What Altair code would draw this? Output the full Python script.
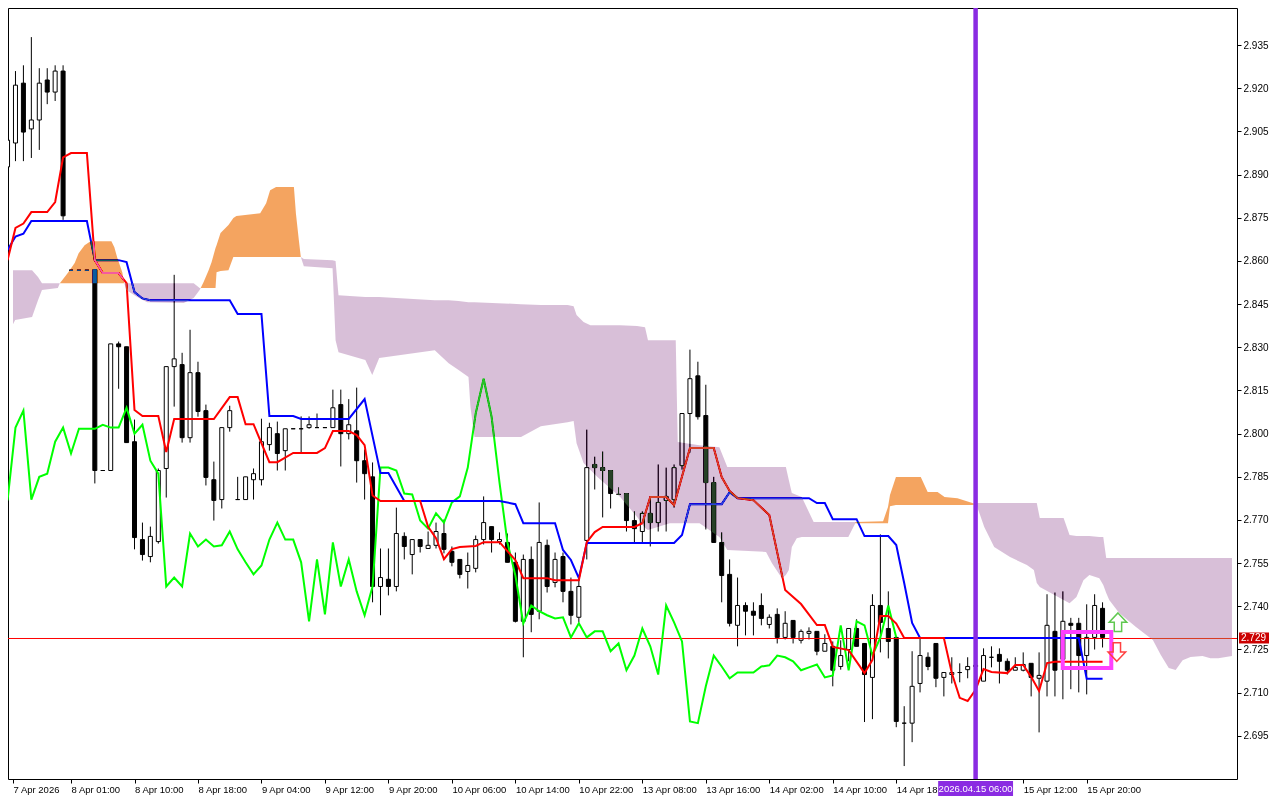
import json
import altair as alt
import pandas as pd

# ---------------- candles (hourly bars, index 0..138) ----------------
opens = [2.8927, 2.9010, 2.9218, 2.9059, 2.9090, 2.9229, 2.9187, 2.9260, 2.8568, 2.8568,
         2.8568, 2.8570, 2.7872, 2.7872, 2.8312, 2.8302, 2.7972, 2.7632, 2.7573, 2.7625,
         2.7879, 2.8233, 2.8240, 2.7986, 2.8212, 2.8080, 2.7840, 2.7771, 2.8021, 2.7771,
         2.7771, 2.7840, 2.7840, 2.7962, 2.8000, 2.7941, 2.8017, 2.8017, 2.8021, 2.8021,
         2.8021, 2.8021, 2.8101, 2.8000, 2.8010, 2.7906, 2.7850, 2.7469, 2.7494, 2.7469,
         2.7643, 2.7580, 2.7632, 2.7601, 2.7612, 2.7653, 2.7591, 2.7563, 2.7521, 2.7532,
         2.7632, 2.7677, 2.7625, 2.7622, 2.7553, 2.7348, 2.7563, 2.7383, 2.7612, 2.7483,
         2.7573, 2.7452, 2.7362, 2.7629, 2.7893, 2.7882, 2.7872, 2.7789, 2.7792, 2.7698,
         2.7660, 2.7723, 2.7691, 2.7768, 2.7771, 2.7889, 2.8070, 2.8201, 2.8063, 2.7830,
         2.7622, 2.7511, 2.7334, 2.7403, 2.7383, 2.7403, 2.7337, 2.7372, 2.7292, 2.7351,
         2.7282, 2.7306, 2.7313, 2.7244, 2.7261, 2.7191, 2.7250, 2.7323, 2.7271, 2.7153,
         2.7403, 2.7323, 2.7292, 2.6994, 2.6994, 2.7132, 2.7223, 2.7271, 2.7153, 2.7163,
         2.7170, 2.7180, 2.7191, 2.7140, 2.7223, 2.7233, 2.7209, 2.7178, 2.7178, 2.7202,
         2.7150, 2.7140, 2.7313, 2.7216, 2.7341, 2.7341, 2.7229, 2.7292, 2.7393]
highs = [2.9050, 2.9260, 2.9280, 2.9378, 2.9270, 2.9270, 2.9280, 2.9280, 2.8568, 2.8568,
         2.8568, 2.8570, 2.7872, 2.8312, 2.8320, 2.8302, 2.8049, 2.7691, 2.7677, 2.7879,
         2.8233, 2.8552, 2.8281, 2.8361, 2.8250, 2.8101, 2.7903, 2.8021, 2.8097, 2.7850,
         2.7850, 2.7879, 2.8052, 2.8038, 2.8042, 2.8017, 2.8017, 2.8060, 2.8060, 2.8070,
         2.8021, 2.8153, 2.8153, 2.8120, 2.8160, 2.7945, 2.7900, 2.7601, 2.7601, 2.7743,
         2.7657, 2.7632, 2.7632, 2.7660, 2.7691, 2.7702, 2.7608, 2.7563, 2.7587, 2.7646,
         2.7782, 2.7677, 2.7657, 2.7653, 2.7587, 2.7580, 2.7608, 2.7761, 2.7632, 2.7587,
         2.7587, 2.7500, 2.7500, 2.8014, 2.7920, 2.7938, 2.7872, 2.7813, 2.7792, 2.7730,
         2.7730, 2.7782, 2.7893, 2.7882, 2.7893, 2.8070, 2.8292, 2.8250, 2.8170, 2.7850,
         2.7657, 2.7563, 2.7500, 2.7414, 2.7414, 2.7445, 2.7372, 2.7393, 2.7383, 2.7351,
         2.7320, 2.7327, 2.7313, 2.7303, 2.7278, 2.7282, 2.7323, 2.7355, 2.7271, 2.7442,
         2.7650, 2.7452, 2.7292, 2.7053, 2.7244, 2.7292, 2.7240, 2.7271, 2.7170, 2.7223,
         2.7202, 2.7223, 2.7220, 2.7254, 2.7261, 2.7254, 2.7219, 2.7223, 2.7240, 2.7202,
         2.7240, 2.7442, 2.7448, 2.7452, 2.7360, 2.7360, 2.7407, 2.7442, 2.7414]
lows = [2.8890, 2.8947, 2.8947, 2.8958, 2.8986, 2.9145, 2.9156, 2.8743, 2.8568, 2.8568,
        2.8568, 2.7827, 2.7872, 2.7872, 2.8156, 2.7969, 2.7598, 2.7559, 2.7553, 2.7618,
        2.7778, 2.8094, 2.7969, 2.7969, 2.8059, 2.7820, 2.7698, 2.7740, 2.8007, 2.7771,
        2.7771, 2.7771, 2.7820, 2.7941, 2.7872, 2.7872, 2.8017, 2.7934, 2.8017, 2.8021,
        2.8021, 2.8021, 2.7886, 2.7980, 2.7830, 2.7771, 2.7414, 2.7369, 2.7438, 2.7452,
        2.7563, 2.7511, 2.7587, 2.7601, 2.7601, 2.7584, 2.7539, 2.7497, 2.7462, 2.7518,
        2.7615, 2.7587, 2.7615, 2.7553, 2.7344, 2.7223, 2.7310, 2.7355, 2.7448, 2.7466,
        2.7414, 2.7337, 2.7344, 2.7563, 2.7806, 2.7709, 2.7740, 2.7789, 2.7660, 2.7622,
        2.7622, 2.7608, 2.7660, 2.7660, 2.7743, 2.7875, 2.7934, 2.8049, 2.7667, 2.7622,
        2.7414, 2.7330, 2.7261, 2.7299, 2.7299, 2.7334, 2.7323, 2.7271, 2.7285, 2.7271,
        2.7271, 2.7285, 2.7230, 2.7244, 2.7122, 2.7180, 2.7209, 2.7261, 2.6998, 2.7008,
        2.7240, 2.7219, 2.6980, 2.6845, 2.6928, 2.7101, 2.7178, 2.7119, 2.7087, 2.7132,
        2.7136, 2.7150, 2.7140, 2.7140, 2.7188, 2.7132, 2.7163, 2.7178, 2.7174, 2.7087,
        2.6962, 2.7087, 2.7087, 2.7077, 2.7112, 2.7101, 2.7094, 2.7250, 2.7257]
closes = [2.9020, 2.9211, 2.9048, 2.9090, 2.9218, 2.9187, 2.9260, 2.8757, 2.8568, 2.8568,
          2.8568, 2.7872, 2.7872, 2.8312, 2.8302, 2.7969, 2.7639, 2.7580, 2.7643, 2.7872,
          2.8233, 2.8260, 2.7986, 2.8212, 2.8077, 2.7848, 2.7768, 2.8021, 2.8080, 2.7771,
          2.7850, 2.7861, 2.7972, 2.8021, 2.7931, 2.8017, 2.8017, 2.8017, 2.8031, 2.8021,
          2.8021, 2.8090, 2.8000, 2.8031, 2.7906, 2.7861, 2.7469, 2.7500, 2.7469, 2.7653,
          2.7608, 2.7632, 2.7608, 2.7612, 2.7660, 2.7598, 2.7553, 2.7511, 2.7542, 2.7632,
          2.7691, 2.7632, 2.7632, 2.7553, 2.7348, 2.7563, 2.7372, 2.7622, 2.7469, 2.7563,
          2.7452, 2.7369, 2.7469, 2.7882, 2.7882, 2.7872, 2.7792, 2.7789, 2.7698, 2.7670,
          2.7723, 2.7691, 2.7761, 2.7782, 2.7882, 2.8070, 2.8191, 2.8059, 2.7830, 2.7622,
          2.7507, 2.7341, 2.7403, 2.7383, 2.7369, 2.7358, 2.7362, 2.7292, 2.7341, 2.7292,
          2.7313, 2.7313, 2.7244, 2.7271, 2.7178, 2.7229, 2.7323, 2.7261, 2.7163, 2.7403,
          2.7344, 2.7278, 2.7000, 2.6994, 2.7122, 2.7229, 2.7191, 2.7150, 2.7170, 2.7170,
          2.7170, 2.7191, 2.7195, 2.7229, 2.7223, 2.7209, 2.7178, 2.7188, 2.7198, 2.7153,
          2.7160, 2.7334, 2.7178, 2.7348, 2.7334, 2.7229, 2.7292, 2.7403, 2.7292]

# ---------------- time axis ----------------
tick_texts = ["7 Apr 2026", "8 Apr 01:00", "8 Apr 10:00", "8 Apr 18:00", "9 Apr 04:00",
              "9 Apr 12:00", "9 Apr 20:00", "10 Apr 06:00", "10 Apr 14:00", "10 Apr 22:00",
              "13 Apr 08:00", "13 Apr 16:00", "14 Apr 02:00", "14 Apr 10:00", "14 Apr 18",
              "15 Apr 04:00", "15 Apr 12:00", "15 Apr 20:00"]
tick_bars = [0, 8, 16, 24, 32, 40, 48, 56, 64, 72, 80, 88, 96, 104, 112, 128, 136]
price_ticks = [2.695, 2.710, 2.725, 2.740, 2.755, 2.770, 2.785, 2.800, 2.815, 2.830,
               2.845, 2.860, 2.875, 2.890, 2.905, 2.920, 2.935]

# ---------------- Tenkan-sen (red) ----------------
tenkan_bar = [0, 1, 2, 3, 5, 6, 7, 8, 10, 11, 12, 14, 15, 16, 17, 19, 20, 21, 26, 28, 29, 30, 31,
              33, 34, 36, 39, 40, 41, 43, 44, 45, 46, 47, 52, 53, 54, 55, 56, 57, 59, 60, 62, 64,
              65, 68, 69, 72, 73, 74, 75, 79, 80, 81, 83, 84, 86, 89, 90, 91, 92, 94, 96, 98,
              100, 102, 103, 104, 106, 108, 109, 110, 111, 112, 113, 118, 119, 120, 121, 122,
              123, 124, 126, 127, 128, 129, 130, 131, 132, 138]
tenkan_val = [2.8603, 2.8715, 2.8730, 2.8770, 2.8770, 2.8805, 2.8960, 2.8975, 2.8975, 2.8603,
              2.8558, 2.8558, 2.8523, 2.8082, 2.8061, 2.8061, 2.7936, 2.8051, 2.8051, 2.8127,
              2.8127, 2.8033, 2.8033, 2.7901, 2.7901, 2.7933, 2.7933, 2.7950, 2.8009, 2.8009,
              2.7995, 2.7960, 2.7785, 2.7766, 2.7766, 2.7676, 2.7637, 2.7564, 2.7599, 2.7606,
              2.7610, 2.7623, 2.7623, 2.7561, 2.7498, 2.7498, 2.7491, 2.7491, 2.7623, 2.7658,
              2.7676, 2.7676, 2.7689, 2.7780, 2.7780, 2.7752, 2.7950, 2.7950, 2.7849, 2.7801,
              2.7776, 2.7769, 2.7717, 2.7457, 2.7408, 2.7335, 2.7335, 2.7259, 2.7248, 2.7168,
              2.7214, 2.7366, 2.7366, 2.7340, 2.7290, 2.7290, 2.7168, 2.7082, 2.7071, 2.7110,
              2.7182, 2.7172, 2.7168, 2.7196, 2.7196, 2.7155, 2.7106, 2.7203, 2.7207, 2.7207]

# ---------------- Kijun-sen (blue) ----------------
kijun_bar = [0, 1, 2, 3, 10, 11, 14, 15, 16, 17, 18, 28, 29, 32, 33, 36, 37, 43, 45, 47, 48, 50,
             62, 64, 65, 69, 70, 71, 72, 73, 84, 85, 86, 90, 91, 92, 101, 102, 103, 104, 107,
             108, 111, 112, 113, 114, 115, 135, 136, 138]
kijun_val = [2.8638, 2.8685, 2.8695, 2.8739, 2.8739, 2.8603, 2.8603, 2.8596, 2.8492, 2.8470,
             2.8464, 2.8464, 2.8416, 2.8416, 2.8061, 2.8061, 2.8051, 2.8051, 2.8120, 2.7863,
             2.7863, 2.7766, 2.7766, 2.7755, 2.7689, 2.7689, 2.7596, 2.7561, 2.7498, 2.7620,
             2.7620, 2.7648, 2.7755, 2.7755, 2.7797, 2.7776, 2.7776, 2.7759, 2.7759, 2.7703,
             2.7703, 2.7644, 2.7644, 2.7613, 2.7481, 2.7342, 2.7290, 2.7290, 2.7148, 2.7148]

# ---------------- Kumo (Senkou span A / B), bearish (thistle) & bullish (sandy) ----------------
bear1_bar = [0.6875, 0.96, 3.09, 3.84, 4.34, 6.34, 6.59]
bear1_top = [2.8568, 2.8568, 2.8568, 2.8544, 2.8523, 2.8523, 2.8523]
bear1_bot = [2.8380, 2.8395, 2.8405, 2.8464, 2.8499, 2.8506, 2.8523]

bull1_bar = [6.59, 7.59, 8.46, 8.96, 9.71, 10.46, 13.09, 13.46, 13.84, 14.46, 14.71]
bull1_top = [2.8523, 2.8558, 2.8593, 2.8627, 2.8655, 2.8669, 2.8669, 2.8648, 2.8610, 2.8561, 2.8523]
bull1_bot = [2.8523, 2.8523, 2.8523, 2.8523, 2.8523, 2.8523, 2.8523, 2.8523, 2.8523, 2.8523, 2.8523]

bear2_bar = [14.71, 14.96, 16.34, 17.59, 22.21, 23.46, 24.21, 24.34]
bear2_top = [2.8523, 2.8523, 2.8523, 2.8523, 2.8523, 2.8523, 2.8506, 2.8506]
bear2_bot = [2.8523, 2.8499, 2.8475, 2.8457, 2.8454, 2.8471, 2.8499, 2.8506]

bull2_bar = [24.34, 24.71, 25.34, 25.71, 26.21, 26.34, 26.84, 27.84, 28.46, 28.84, 31.84, 32.59,
             33.09, 33.84, 36.09, 36.34, 36.71, 36.96]
bull2_top = [2.8506, 2.8527, 2.8568, 2.8596, 2.8645, 2.8655, 2.8697, 2.8725, 2.8749, 2.8756,
             2.8766, 2.8801, 2.8846, 2.8857, 2.8857, 2.8766, 2.8673, 2.8614]
bull2_bot = [2.8506, 2.8506, 2.8506, 2.8506, 2.8506, 2.8561, 2.8565, 2.8568, 2.8614, 2.8614,
             2.8614, 2.8614, 2.8614, 2.8614, 2.8614, 2.8614, 2.8614, 2.8614]

bear3_bar = [36.96, 37.34, 40.96, 41.34, 41.71, 45.09, 45.96, 46.84, 53.84, 55.59, 56.84, 58.09,
             58.34, 58.84, 64.71, 67.21, 70.59, 71.34, 71.71, 72.59, 73.46, 74.34, 77.21, 79.34,
             80.34, 80.71, 83.46, 84.21, 84.46, 87.21, 89.71, 90.71, 95.59, 96.34, 97.59, 98.09,
             98.46, 98.84, 99.46, 100.09, 101.59, 105.96, 106.84]
bear3_top = [2.8614, 2.8607, 2.8603, 2.8600, 2.8481, 2.8475, 2.8475, 2.8475, 2.8464, 2.8464,
             2.8461, 2.8457, 2.8457, 2.8457, 2.8450, 2.8447, 2.8447, 2.8443, 2.8412, 2.8388,
             2.8377, 2.8377, 2.8377, 2.8374, 2.8370, 2.8325, 2.8325, 2.8325, 2.7971, 2.7960,
             2.7953, 2.7884, 2.7884, 2.7884, 2.7884, 2.7884, 2.7839, 2.7794, 2.7787, 2.7780,
             2.7693, 2.7693, 2.7693]
bear3_bot = [2.8614, 2.8582, 2.8575, 2.8325, 2.8283, 2.8256, 2.8204, 2.8263, 2.8290, 2.8245,
             2.8221, 2.8197, 2.8092, 2.7988, 2.7988, 2.8026, 2.8040, 2.8044, 2.7967, 2.7898,
             2.7874, 2.7849, 2.7780, 2.7710, 2.7672, 2.7665, 2.7689, 2.7689, 2.7689, 2.7689,
             2.7641, 2.7596, 2.7589, 2.7550, 2.7498, 2.7509, 2.7526, 2.7606, 2.7637, 2.7641,
             2.7641, 2.7641, 2.7689]

bull3_bar = [106.84, 110.34, 110.96, 111.21, 111.96, 115.09, 115.96, 117.21, 118.09, 119.71,
             121.59, 121.96]
bull3_top = [2.7693, 2.7696, 2.7745, 2.7787, 2.7849, 2.7849, 2.7797, 2.7797, 2.7780, 2.7776,
             2.7759, 2.7755]
bull3_bot = [2.7689, 2.7689, 2.7689, 2.7748, 2.7752, 2.7752, 2.7752, 2.7752, 2.7752, 2.7752,
             2.7752, 2.7755]

bear4_bar = [121.96, 122.21, 123.09, 124.34, 126.34, 128.46, 129.34, 129.71, 130.09, 133.09,
             133.84, 134.71, 135.59, 136.34, 137.59, 138.09, 138.46, 138.84, 140.09, 142.21,
             144.34, 145.34, 146.34, 147.21, 148.09, 149.09, 150.59, 151.59, 152.59, 154.31]
bear4_top = [2.7755, 2.7759, 2.7759, 2.7759, 2.7759, 2.7759, 2.7759, 2.7759, 2.7707, 2.7707,
             2.7648, 2.7644, 2.7644, 2.7644, 2.7641, 2.7641, 2.7568, 2.7568, 2.7568, 2.7568,
             2.7568, 2.7568, 2.7568, 2.7568, 2.7568, 2.7568, 2.7568, 2.7568, 2.7568, 2.7568]
bear4_bot = [2.7755, 2.7745, 2.7676, 2.7606, 2.7571, 2.7544, 2.7526, 2.7481, 2.7467, 2.7422,
             2.7411, 2.7432, 2.7491, 2.7509, 2.7498, 2.7474, 2.7446, 2.7422, 2.7377, 2.7328,
             2.7283, 2.7231, 2.7186, 2.7179, 2.7213, 2.7224, 2.7227, 2.7220, 2.7220, 2.7227]

# ---------------- annotations ----------------
last_price = 2.729
vline_bar = 122
vline_text = "2026.04.15 06:00"
box_bar = [132.98, 139.10]
box_price = [2.7311, 2.7186]
arrow_up = (139.94, 2.7345)
arrow_down = (139.80, 2.7241)
chikou_shift = 26

# ---------------- layout ----------------
W, H = 1229, 771
FONT = "Liberation Sans"
X_DOM = [0.6875, 154.3125]
Y_DOM = [2.680, 2.947915]
xs = alt.Scale(domain=X_DOM, nice=False, zero=False)
ys = alt.Scale(domain=Y_DOM, nice=False, zero=False)
px_price = (Y_DOM[1] - Y_DOM[0]) / H
px_bar = (X_DOM[1] - X_DOM[0]) / W

axis_ticks = [max(b, X_DOM[0]) for b in tick_bars]
x_axis = alt.Axis(values=axis_ticks, labelExpr=json.dumps(tick_texts) + "[round(datum.value/8)]",
                  labelAlign="left", labelBaseline="top", labelPadding=1, tickSize=4,
                  tickColor="black", labelColor="black", labelFont=FONT, labelFontSize=9.5,
                  domain=False, grid=False, labelOverlap=False, labelFlush=False, title=None)
y_axis = alt.Axis(orient="right", values=price_ticks, format=".3f", tickSize=4,
                  tickColor="black", labelColor="black", labelFont=FONT, labelFontSize=10,
                  labelPadding=2, domain=False, grid=False, labelOverlap=False, title=None)


def X(field):
    return alt.X(field, scale=xs, axis=x_axis)


def Y(field):
    return alt.Y(field, scale=ys, axis=y_axis)


candles = pd.DataFrame({"i": list(range(len(opens))), "o": opens, "h": highs, "l": lows, "c": closes})

wicks = alt.Chart(candles).mark_rule(color="black", strokeWidth=1, clip=True).encode(
    x=X("i:Q"), y=Y("l:Q"), y2="h:Q")

bodies = alt.Chart(candles).mark_bar(width=4, stroke="black", strokeWidth=1, clip=True).encode(
    x=X("i:Q"), y=Y("o:Q"), y2="c:Q",
    fill=alt.condition("datum.c >= datum.o", alt.value("white"), alt.value("black")))

price_df = pd.DataFrame({"p": [last_price],
                         "p_hi": [last_price + 5.5 * px_price],
                         "p_lo": [last_price - 5.5 * px_price],
                         "t": [f"{last_price:.3f}"]})
price_line = alt.Chart(price_df).mark_rule(color="#FF0000", strokeWidth=1, yOffset=0.5).encode(
    y=Y("p:Q"))

chikou_df = pd.DataFrame({"b": list(range(len(closes) - chikou_shift)), "v": closes[chikou_shift:]})
chikou = alt.Chart(chikou_df).mark_line(color="#00FF00", strokeWidth=2, clip=True).encode(
    x=X("b:Q"), y=Y("v:Q"))

kijun = alt.Chart(pd.DataFrame({"b": kijun_bar, "v": kijun_val})).mark_line(
    color="#0000FF", strokeWidth=2, clip=True).encode(x=X("b:Q"), y=Y("v:Q"))
tenkan = alt.Chart(pd.DataFrame({"b": tenkan_bar, "v": tenkan_val})).mark_line(
    color="#FF0000", strokeWidth=2, clip=True).encode(x=X("b:Q"), y=Y("v:Q"))


def seg_df(segs):
    rows = []
    for sid, (bars, tops, bots) in enumerate(segs):
        for b, t, d in zip(bars, tops, bots):
            rows.append({"seg": sid, "b": b, "top": t, "bot": d})
    return pd.DataFrame(rows)


bear_df = seg_df([(bear1_bar, bear1_top, bear1_bot), (bear2_bar, bear2_top, bear2_bot),
                  (bear3_bar, bear3_top, bear3_bot), (bear4_bar, bear4_top, bear4_bot)])
bull_df = seg_df([(bull1_bar, bull1_top, bull1_bot), (bull2_bar, bull2_top, bull2_bot),
                  (bull3_bar, bull3_top, bull3_bot)])

# the kumo is drawn in "difference" mode over the white view (no clip group, so it blends):
# white -> thistle / sandybrown, black candles -> dark green / blue, like the terminal does
kumo_bear = alt.Chart(bear_df).mark_area(color="#274027", opacity=1, blend="difference").encode(
    x=X("b:Q"), y=Y("top:Q"), y2="bot:Q", detail="seg:N")
kumo_bull = alt.Chart(bull_df).mark_area(color="#0B5B9F", opacity=1, blend="difference").encode(
    x=X("b:Q"), y=Y("top:Q"), y2="bot:Q", detail="seg:N")

vdf = pd.DataFrame({"b": [vline_bar], "b0": [vline_bar - 37.75 * px_bar],
                    "b1": [vline_bar + 37.75 * px_bar], "t": [vline_text]})
vline = alt.Chart(vdf).mark_rule(color="#8A2BE2", strokeWidth=4.5).encode(x=X("b:Q"))
vlabel_bg = alt.Chart(vdf).mark_rect(color="#8A2BE2").encode(
    x=X("b0:Q"), x2="b1:Q", y=alt.value(H + 2), y2=alt.value(H + 17))
vlabel = alt.Chart(vdf).mark_text(color="white", font=FONT, fontSize=9.5, align="center",
                                  baseline="middle").encode(
    x=X("b:Q"), y=alt.value(H + 10), text="t:N")

plabel_bg = alt.Chart(price_df).mark_rect(color="#CC0000").encode(
    x=alt.value(W + 2), x2=alt.value(W + 32), y=Y("p_hi:Q"), y2="p_lo:Q")
plabel = alt.Chart(price_df).mark_text(color="white", font=FONT, fontSize=10, align="left",
                                       baseline="middle").encode(
    x=alt.value(W + 4), y=Y("p:Q"), text="t:N")

box = alt.Chart(pd.DataFrame({"b0": [box_bar[0]], "b1": [box_bar[1]],
                              "p0": [box_price[0]], "p1": [box_price[1]]})).mark_rect(
    fillOpacity=0, stroke="#FF40FF", strokeWidth=4).encode(
    x=X("b0:Q"), x2="b1:Q", y=Y("p0:Q"), y2="p1:Q")

UP = "M0,-1 L0.95,0 L0.4,0 L0.4,1 L-0.4,1 L-0.4,0 L-0.95,0 Z"
DOWN = "M0,1 L0.95,0 L0.4,0 L0.4,-1 L-0.4,-1 L-0.4,0 L-0.95,0 Z"
up_arrow = alt.Chart(pd.DataFrame({"b": [arrow_up[0]], "v": [arrow_up[1]]})).mark_point(
    shape=UP, size=340, filled=False, stroke="#60C850", strokeWidth=1.5, opacity=1).encode(
    x=X("b:Q"), y=Y("v:Q"))
down_arrow = alt.Chart(pd.DataFrame({"b": [arrow_down[0]], "v": [arrow_down[1]]})).mark_point(
    shape=DOWN, size=340, filled=False, stroke="#FF4040", strokeWidth=1.5, opacity=1).encode(
    x=X("b:Q"), y=Y("v:Q"))

chart = alt.layer(
    wicks, bodies, price_line, chikou, kijun, tenkan, kumo_bear, kumo_bull,
    vline, box, up_arrow, down_arrow, vlabel_bg, vlabel, plabel_bg, plabel
).properties(
    width=W, height=H, background="white",
    autosize=alt.AutoSizeParams(type="none"),
    padding={"left": 0, "top": 0, "right": 35, "bottom": 21}
).configure_view(stroke="black", strokeWidth=1, fill="white")

chart.save("out.html", embed_options={"renderer": "svg", "actions": False})
